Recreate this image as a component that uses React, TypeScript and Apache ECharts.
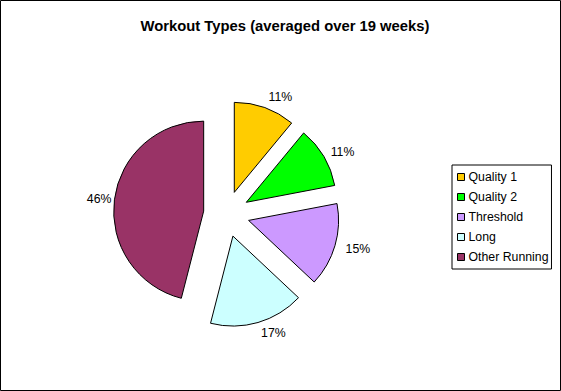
import React, { useEffect, useRef } from "react";
import * as echarts from "echarts";

const categories = ["Quality 1", "Quality 2", "Threshold", "Long", "Other Running"];
const values = [11, 11, 15, 17, 46];
const colors = ["#FFCC00", "#00FF00", "#CC99FF", "#CCFFFF", "#993366"];
const titleText = "Workout Types (averaged over 19 weeks)";

export default function App() {
  const ref = useRef<HTMLDivElement>(null);
  useEffect(() => {
    if (!ref.current) return;
    const chart = echarts.init(ref.current, undefined, { renderer: "svg" });
    const font = "Arial, 'Liberation Sans', sans-serif";
    chart.setOption({
      animation: false,
      backgroundColor: "#ffffff",
      title: {
        text: titleText,
        left: 280,
        textAlign: "center",
        top: 13,
        textStyle: { fontSize: 14.8, fontWeight: "bold", color: "#000", fontFamily: font },
      },
      legend: {
        orient: "vertical",
        left: 452,
        top: 165,
        data: categories,
        itemWidth: 7,
        itemHeight: 7,
        itemGap: 8,
        icon: "rect",
        borderColor: "#000",
        borderWidth: 1,
        borderRadius: 0,
        padding: [6, 3, 6, 5],
        textStyle: { fontSize: 12.3, color: "#000", fontFamily: font, padding: [0, 0, 0, -1] },
        itemStyle: { borderColor: "#000", borderWidth: 1 },
        selectedMode: false,
      },
      graphic: [
        {
          type: "rect",
          shape: { x: 0.5, y: 0.5, width: 560, height: 390 },
          style: { fill: "none", stroke: "#000", lineWidth: 1 },
          silent: true,
        },
      ],
      series: [
        {
          type: "pie",
          center: [226.5, 214],
          radius: 90,
          startAngle: 90,
          clockwise: true,
          selectedMode: "multiple",
          selectedOffset: 23,
          avoidLabelOverlap: false,
          label: {
            show: true,
            position: "outside",
            formatter: "{d}%",
            fontSize: 12.3,
            color: "#000",
            fontFamily: font,
            distanceToLabelLine: 0,
          },
          labelLine: { show: false, length: 11, length2: 0 },
          itemStyle: { borderColor: "#000", borderWidth: 1 },
          emphasis: { disabled: true },
          data: categories.map((c, i) => ({
            name: c,
            value: values[i],
            selected: true,
            itemStyle: { color: colors[i] },
            labelLine: { show: false, length: i === 4 ? 3 : i === 1 ? 8 : 11, length2: 0 },
          })),
        },
      ],
    });
    return () => chart.dispose();
  }, []);
  return (
    <div
      ref={ref}
      style={{ position: "absolute", left: 0, top: 0, width: 561, height: 391 }}
    />
  );
}
